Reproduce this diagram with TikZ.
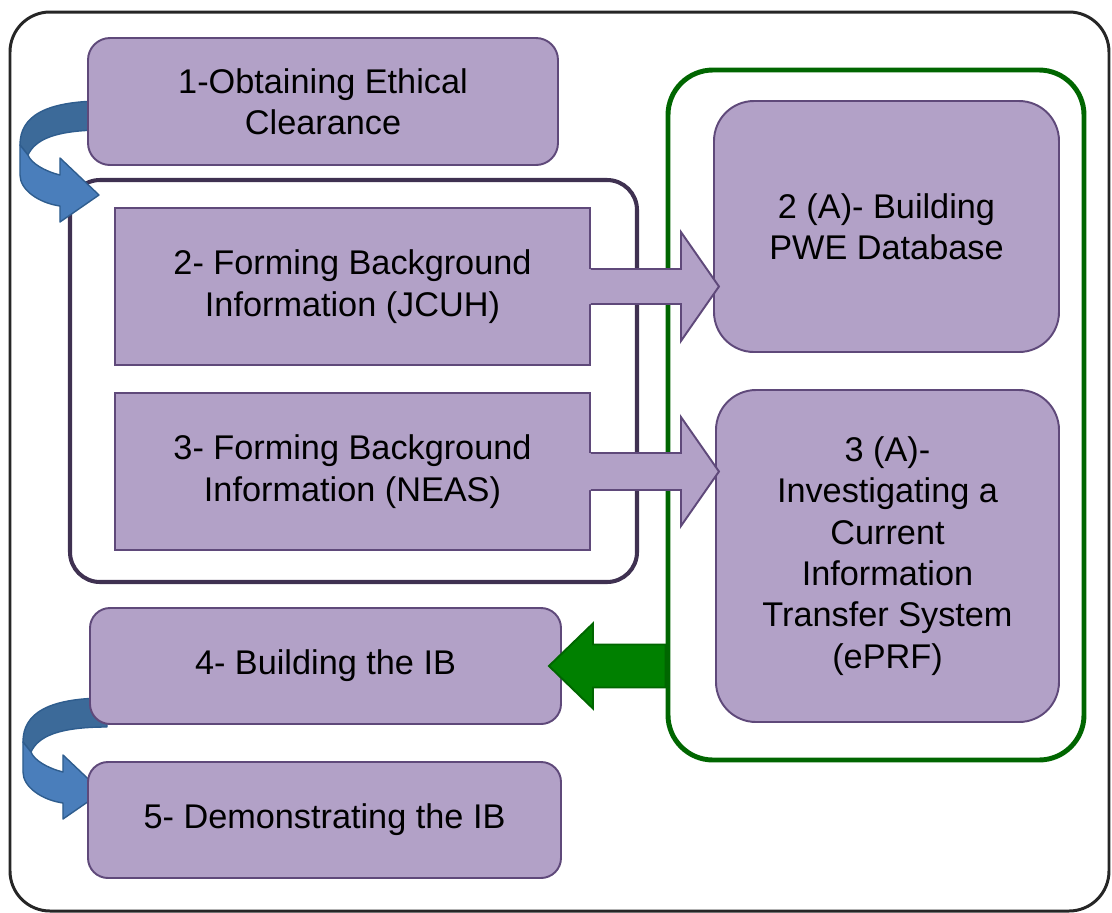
\documentclass[tikz,border=0pt]{standalone}
\usepackage{fontspec}
\setmainfont{Liberation Sans}
\usetikzlibrary{calc}
\definecolor{boxfill}{HTML}{B2A1C7}
\definecolor{boxline}{HTML}{5F497A}
\definecolor{grpdark}{HTML}{3F3151}
\definecolor{grpgreen}{HTML}{006600}
\definecolor{arrgreen}{HTML}{008000}
\definecolor{framecol}{HTML}{262626}
\definecolor{bluedark}{HTML}{3C6A99}
\definecolor{bluelight}{HTML}{4A7EBB}
\definecolor{blueline}{HTML}{2F5D8E}
\newcommand{\boxfont}{\fontsize{19.5}{23.5}\selectfont}
\newcommand{\bendarrow}[1]{%
  \begin{scope}[shift={(#1)},x=0.02cm,y=-0.02cm]
    \filldraw[fill=bluedark,draw=blueline,line width=0.8pt,line join=round] (5,-94) .. controls (-55,-94) and (-79,-78) .. (-79,-50)
      -- (-71,-40) .. controls (-64,-55) and (-45,-65) .. (5,-65) -- cycle;
    \filldraw[fill=bluelight,draw=blueline,line width=0.8pt,line join=round] (-79,-50) -- (-79,-20) .. controls (-79,-5) and (-60,8) .. (-39,11)
      -- (-39,27) -- (0,0) -- (-39,-37) -- (-39,-20) .. controls (-55,-24) and (-68,-32) .. (-71,-40) -- cycle;
  \end{scope}}

\begin{document}
\begin{tikzpicture}[
    box/.style={draw=boxline, fill=boxfill, line width=1.1pt, align=center, font=\boxfont, inner sep=0pt},
    rbox/.style={box, rounded corners=#1},
    grp/.style={rounded corners=#1, inner sep=0pt},
    blockarrow/.style={draw=boxline, line width=1.1pt}]
      \useasboundingbox (0,0) rectangle (22.24,-18.26);

      \node[grp=0.8cm, draw=framecol, line width=1.7pt, minimum width=21.98cm, minimum height=17.98cm] (frame) at (11.19,-9.23) {};
      \node[grp=0.6cm, draw=grpdark, line width=2.3pt, minimum width=11.34cm, minimum height=8.04cm] (grpL) at (7.07,-7.62) {};
      \node[grp=0.9cm, draw=grpgreen, line width=2.8pt, minimum width=8.32cm, minimum height=13.8cm] (grpR) at (17.52,-8.3) {};

      \coordinate (t1) at (1.98,-3.9);
      \coordinate (t2) at (2.04,-15.84);
      \bendarrow{t1}
      \bendarrow{t2}

      \node[rbox=0.44cm, minimum width=9.4cm, minimum height=2.54cm] (b1) at (6.46,-2.03) {1-Obtaining Ethical\\Clearance};
      \node[box, minimum width=9.5cm, minimum height=3.14cm] (b2) at (7.05,-5.73) {2- Forming Background\\Information (JCUH)};
      \node[box, minimum width=9.5cm, minimum height=3.14cm] (b3) at (7.05,-9.43) {3- Forming Background\\Information (NEAS)};
      \node[rbox=0.8cm, minimum width=6.9cm, minimum height=5.02cm] (b2a) at (17.73,-4.53) {2 (A)- Building\\PWE Database};
      \node[rbox=0.8cm, minimum width=6.86cm, minimum height=6.64cm] (b3a) at (17.75,-11.12) {3 (A)-\\Investigating a\\Current\\Information\\Transfer System\\(ePRF)};
      \node[rbox=0.4cm, minimum width=9.42cm, minimum height=2.32cm] (b4) at (6.51,-13.32) {4- Building the IB};
      \node[rbox=0.4cm, minimum width=9.46cm, minimum height=2.32cm] (b5) at (6.49,-16.4) {5- Demonstrating the IB};

      \begin{scope}[shift={(b2.east)}]
        \fill[boxfill] (-0.05,0.35) -- (1.8,0.35) -- (1.8,1.09) -- (2.56,0) -- (1.8,-1.09) -- (1.8,-0.35) -- (-0.05,-0.35) -- cycle;
        \draw[blockarrow] (0,0.35) -- (1.8,0.35) -- (1.8,1.09) -- (2.56,0) -- (1.8,-1.09) -- (1.8,-0.35) -- (0,-0.35);
      \end{scope}
      \begin{scope}[shift={(b3.east)}]
        \fill[boxfill] (-0.05,0.37) -- (1.8,0.37) -- (1.8,1.09) -- (2.56,0) -- (1.8,-1.09) -- (1.8,-0.37) -- (-0.05,-0.37) -- cycle;
        \draw[blockarrow] (0,0.37) -- (1.8,0.37) -- (1.8,1.09) -- (2.56,0) -- (1.8,-1.09) -- (1.8,-0.37) -- (0,-0.37);
      \end{scope}

      \coordinate (g0) at (grpR.west |- b4.east);
      \filldraw[fill=arrgreen, draw=grpgreen, line width=1.1pt] ($(g0)+(0,0.43)$) -- ($(b4.east)+(0.62,0.43)$) -- ($(b4.east)+(0.62,0.85)$)
        -- ($(b4.east)+(-0.26,0)$) -- ($(b4.east)+(0.62,-0.85)$) -- ($(b4.east)+(0.62,-0.43)$) -- ($(g0)+(0,-0.43)$) -- cycle;
\end{tikzpicture}
\end{document}
